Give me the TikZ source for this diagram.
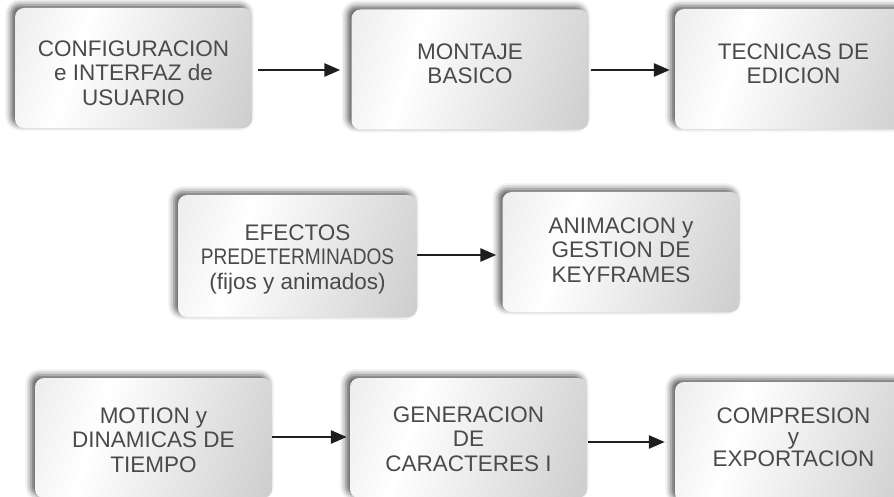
\documentclass[tikz,border=0pt]{standalone}
\usepackage{fontspec}
\setmainfont{Liberation Sans}
\usetikzlibrary{shadows.blur,arrows.meta}
\definecolor{txtgray}{HTML}{4A4A4A}
\definecolor{arrowc}{HTML}{1E1E1E}
\pgfdeclarehorizontalshading{boxshade}{100bp}{color(0bp)=(gray!30); color(36bp)=(white); color(100bp)=(gray!55)}
\tikzset{
  stagebox/.style={rounded corners=9pt, minimum width=237pt, minimum height=120pt,
    shading=boxshade, shading angle=-18,
    blur shadow={shadow xshift=-4pt, shadow yshift=3pt, shadow blur radius=6pt, shadow opacity=65}},
  stagetext/.style={align=center, text=txtgray, font=\fontsize{22.5}{24.5}\selectfont},
  flowarrow/.style={draw=arrowc, line width=2.7pt, -{Triangle[length=16pt,width=13pt]}}
}
\begin{document}
\begin{tikzpicture}[x=1pt,y=-1pt]
\useasboundingbox (0,0) rectangle (894,497);
\node[stagebox, label={[stagetext, yshift=-5pt]center:CONFIGURACION\\e INTERFAZ de\\USUARIO}] (b1) at (133.5,68) {};
\node[stagebox, label={[stagetext, yshift=5.5pt]center:MONTAJE\\BASICO}] (b2) at (470,69.5) {};
\node[stagebox, label={[stagetext, yshift=5pt]center:TECNICAS DE\\EDICION}] (b3) at (793.5,69) {};
\node[stagebox, minimum width=239pt, minimum height=122pt, label={[stagetext, yshift=-3pt]center:EFECTOS\\\scalebox{0.85}[1]{PREDETERMINADOS}\\(fijos y animados)}] (b4) at (297.5,256) {};
\node[stagebox, label={[stagetext, yshift=2pt]center:ANIMACION y\\GESTION DE\\KEYFRAMES}] (b5) at (621,252) {};
\node[stagebox, label={[stagetext, yshift=-2pt]center:MOTION y\\DINAMICAS DE\\TIEMPO}] (b6) at (153.5,438) {};
\node[stagebox, label={[stagetext, yshift=-1pt]center:GENERACION\\DE\\CARACTERES I}] (b7) at (468.5,438) {};
\node[stagebox, label={[stagetext, font=\fontsize{22.5}{21.5}\selectfont, yshift=5pt]center:COMPRESION\\y\\EXPORTACION}] (b8) at (793.5,442) {};
\draw[flowarrow, shorten <=6pt, shorten >=11pt] (b1.east |- 0,70) -- (b2.west |- 0,70);
\draw[flowarrow, shorten <=2pt, shorten >=5pt] (b2.east |- 0,70) -- (b3.west |- 0,70);
\draw[flowarrow, shorten <=0pt, shorten >=6pt] (b4.east |- 0,255) -- (b5.west |- 0,255);
\draw[flowarrow, shorten <=0pt, shorten >=3pt] (b6.east |- 0,437) -- (b7.west |- 0,437);
\draw[flowarrow, shorten <=1pt, shorten >=10pt] (b7.east |- 0,442) -- (b8.west |- 0,442);
\end{tikzpicture}
\end{document}
